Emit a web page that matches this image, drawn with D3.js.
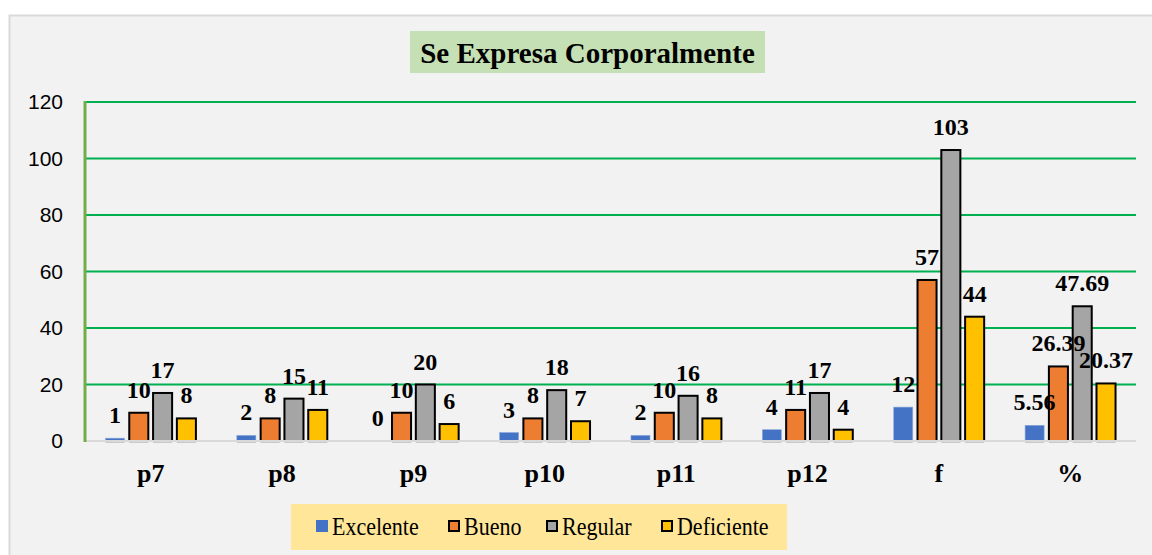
<!DOCTYPE html>
<html>
<head>
<meta charset="utf-8">
<script src="https://cdn.jsdelivr.net/npm/d3@7"></script>
<style>
    body { margin: 0; background: #ffffff; }
    svg { display: block; }
    .serif { font-family: "Liberation Serif", "Times New Roman", serif; }
    .sans { font-family: "Liberation Sans", Arial, sans-serif; }
</style>
</head>
<body>
<div id="chart"></div>
<script>
// chart data
var categories = ["p7", "p8", "p9", "p10", "p11", "p12", "f", "%"];
var seriesNames = ["Excelente", "Bueno", "Regular", "Deficiente"];
var excelente = [1, 2, 0, 3, 2, 4, 12, 5.56];
var bueno = [10, 8, 10, 8, 10, 11, 57, 26.39];
var regular = [17, 15, 20, 18, 16, 17, 103, 47.69];
var deficiente = [8, 11, 6, 7, 8, 4, 44, 20.37];
var yTicks = [0, 20, 40, 60, 80, 100, 120];

var seriesValues = [excelente, bueno, regular, deficiente];
var colors = ["#4472C4", "#ED7D31", "#A5A5A5", "#FFC000"];

var width = 1152, height = 555;
var plotLeft = 85, plotRight = 1136, plotTop = 102, plotBottom = 441;

var svg = d3.select("#chart").append("svg")
    .attr("width", width)
    .attr("height", height);

// chart area background + border
svg.append("rect")
    .attr("x", 9.5).attr("y", 15.5)
    .attr("width", 1200).attr("height", 600)
    .attr("fill", "#F2F2F2")
    .attr("stroke", "#D9D9D9")
    .attr("stroke-width", 2);

var x0 = d3.scaleBand()
    .domain(categories)
    .range([plotLeft, plotRight])
    .paddingInner(0).paddingOuter(0);

var x1 = d3.scaleBand()
    .domain(seriesNames)
    .range([0, x0.bandwidth()])
    .paddingInner(0.2)
    .paddingOuter(0.86);

var y = d3.scaleLinear()
    .domain([0, 120])
    .range([plotBottom, plotTop]);

// gridlines
svg.append("g")
    .selectAll("line")
    .data(yTicks.filter(function (t) { return t > 0; }))
    .enter().append("line")
    .attr("x1", plotLeft).attr("x2", plotRight)
    .attr("y1", function (d) { return y(d); })
    .attr("y2", function (d) { return y(d); })
    .attr("stroke", "#00B050")
    .attr("stroke-width", 2);

// y axis tick labels
var yAxis = d3.axisLeft(y).tickValues(yTicks).tickSize(0).tickPadding(0);
var gy = svg.append("g")
    .attr("transform", "translate(63,0)")
    .call(yAxis)
    .attr("font-family", null);
gy.select(".domain").remove();
gy.selectAll("text")
    .attr("class", "sans")
    .style("font-size", "21px")
    .attr("fill", "#000");

// bars
var groups = svg.append("g")
    .selectAll("g")
    .data(categories)
    .enter().append("g")
    .attr("transform", function (d) { return "translate(" + x0(d) + ",0)"; });

var barData = function (cat, ci) {
    return seriesNames.map(function (s, si) {
        return { series: s, si: si, value: seriesValues[si][ci] };
    });
};

groups.each(function (cat, ci) {
    var g = d3.select(this);
    var data = barData(cat, ci);

    // faint shadow under the bars
    g.selectAll("rect.shadow")
        .data(data.filter(function (d) { return d.value > 0; }))
        .enter().append("rect")
        .attr("class", "shadow")
        .attr("x", function (d) { return x1(d.series); })
        .attr("y", plotBottom)
        .attr("width", x1.bandwidth())
        .attr("height", 2)
        .attr("fill", "#C8C8C8");

    g.selectAll("rect.bar")
        .data(data.filter(function (d) { return d.value > 0; }))
        .enter().append("rect")
        .attr("class", "bar")
        .attr("x", function (d) { return x1(d.series); })
        .attr("y", function (d) { return y(d.value); })
        .attr("width", x1.bandwidth())
        .attr("height", function (d) { return y(0) - y(d.value); })
        .attr("fill", function (d) { return colors[d.si]; })
        .attr("stroke", function (d) { return d.si === 0 ? "#8FAADC" : "#000"; })
        .attr("stroke-width", function (d) { return d.si === 0 ? 0.6 : 2; });

    g.selectAll("text.lbl")
        .data(data)
        .enter().append("text")
        .attr("class", "lbl serif")
        .attr("x", function (d) { return x1(d.series) + x1.bandwidth() / 2; })
        .attr("y", function (d) { return y(d.value) - 15; })
        .attr("text-anchor", "middle")
        .style("font-weight", "bold")
        .style("font-size", "24px")
        .attr("fill", "#000")
        .text(function (d) { return d.value; });
});

// baseline
svg.append("line")
    .attr("x1", plotLeft).attr("x2", plotRight)
    .attr("y1", plotBottom).attr("y2", plotBottom)
    .attr("stroke", "#D9D9D9")
    .attr("stroke-width", 2);

// left axis line
svg.append("line")
    .attr("x1", plotLeft).attr("x2", plotLeft)
    .attr("y1", plotTop - 1).attr("y2", plotBottom + 1)
    .attr("stroke", "#70AD47")
    .attr("stroke-width", 3);

// x axis labels
var xAxis = d3.axisBottom(x0).tickSize(0).tickPadding(0);
var gx = svg.append("g")
    .attr("transform", "translate(0," + plotBottom + ")")
    .call(xAxis)
    .attr("font-family", null);
gx.select(".domain").remove();
gx.selectAll("text")
    .attr("class", "serif")
    .attr("dy", null)
    .attr("y", 41)
    .style("font-weight", "bold")
    .style("font-size", "26px")
    .attr("fill", "#000");

// title
svg.append("rect")
    .attr("x", 410).attr("y", 31)
    .attr("width", 355).attr("height", 42)
    .attr("fill", "#C5E0B4");
svg.append("text")
    .attr("class", "serif")
    .attr("x", 587.5).attr("y", 63)
    .attr("text-anchor", "middle")
    .style("font-weight", "bold")
    .style("font-size", "29px")
    .attr("fill", "#000")
    .text("Se Expresa Corporalmente");

// legend
svg.append("rect")
    .attr("x", 291).attr("y", 504)
    .attr("width", 496).attr("height", 46)
    .attr("fill", "#FFE699");

var legendX = [316, 448, 546, 661];
var legend = svg.append("g")
    .selectAll("g")
    .data(seriesNames)
    .enter().append("g")
    .attr("transform", function (d, i) { return "translate(" + legendX[i] + ",520)"; });

legend.append("rect")
    .attr("x", function (d, i) { return i === 0 ? 0 : 1; })
    .attr("y", function (d, i) { return i === 0 ? 0 : 1; })
    .attr("width", function (d, i) { return i === 0 ? 12 : 10; })
    .attr("height", function (d, i) { return i === 0 ? 12 : 10; })
    .attr("fill", function (d, i) { return colors[i]; })
    .attr("stroke", function (d, i) { return i === 0 ? "none" : "#000"; })
    .attr("stroke-width", 2);

// legend text is a bit taller than wide in the original
legend.append("text")
    .attr("class", "serif")
    .attr("transform", "translate(16,15) scale(1,1.15)")
    .style("font-size", "22px")
    .attr("fill", "#000")
    .text(function (d) { return d; });
</script>
</body>
</html>
